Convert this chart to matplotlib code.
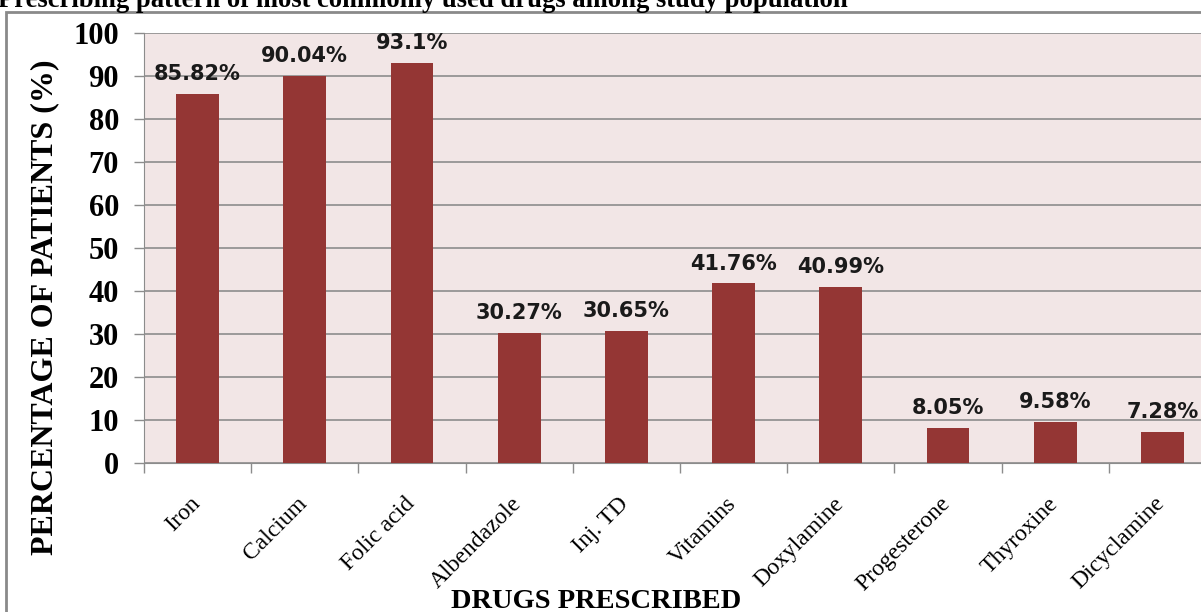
import numpy as np
import matplotlib.pyplot as plt
import matplotlib.transforms as mtransforms
from matplotlib.patches import Rectangle

drugs = ["Iron", "Calcium", "Folic acid", "Albendazole", "Inj. TD", "Vitamins",
         "Doxylamine", "Progesterone", "Thyroxine", "Dicyclamine"]
percent = [85.82, 90.04, 93.1, 30.27, 30.65, 41.76, 40.99, 8.05, 9.58, 7.28]
value_labels = ["85.82%", "90.04%", "93.1%", "30.27%", "30.65%", "41.76%",
                "40.99%", "8.05%", "9.58%", "7.28%"]

W, H = 1201, 612
fig = plt.figure(figsize=(W / 100, H / 100), dpi=100)

# outer chart border (cropped on the right and bottom)
fig.patches.append(Rectangle((6 / W, -0.1), 1.2, 1 - 12 / H + 0.1, transform=fig.transFigure,
                             fill=False, edgecolor='#8a8a8a', linewidth=2))

fig.text(-2 / W, 1 - 7 / H, "Prescribing pattern of most commonly used drugs among study population",
         fontsize=19.2, fontweight='bold', family='Liberation Serif', va='baseline', ha='left')

ax = fig.add_axes([144 / W, 1 - 463 / H, (1216 - 144) / W, (463 - 33) / H])
ax.set_facecolor('#f2e6e6')

x = np.arange(len(drugs))
ax.bar(x, percent, width=0.4, color='#943634', zorder=3)
for xi, v, lab in zip(x, percent, value_labels):
    ax.annotate(lab, (xi, v), xytext=(0, 10), textcoords='offset points', ha='center', va='baseline',
                fontsize=15, fontweight='bold', family='DejaVu Sans', color='#1a1a1a', zorder=4)

ax.set_xlim(-0.5, len(drugs) - 0.5)
ax.set_ylim(0, 100)
ax.set_yticks(np.arange(0, 101, 10))
ax.grid(axis='y', color='#8c8c8c', linewidth=1.2, zorder=1)
ax.set_xticks(x, drugs, rotation=45, ha='right', rotation_mode='anchor',
              fontsize=17, family='Liberation Serif')
ax.set_xticks(np.arange(-0.5, len(drugs), 1), minor=True)
ax.tick_params(axis='x', which='major', length=0, pad=8)
ax.tick_params(axis='x', which='minor', length=7, color='#8c8c8c', width=1)
ax.tick_params(axis='y', length=7, color='#8c8c8c', width=1, pad=11)
shift = mtransforms.ScaledTranslation(-8 / 100, -19 / 100, fig.dpi_scale_trans)
for t in ax.get_xticklabels():
    t.set_transform(t.get_transform() + shift)
for t in ax.get_yticklabels():
    t.set_fontsize(22)
    t.set_fontweight('bold')
    t.set_family('Liberation Serif')

for s in ['top', 'right']:
    ax.spines[s].set_visible(False)
ax.spines['left'].set_color('#8c8c8c')
ax.spines['bottom'].set_color('#8c8c8c')

fig.text(45 / W, 1 - 307 / H, "PERCENTAGE OF PATIENTS (%)", rotation=90, ha='center', va='center',
         fontsize=23, fontweight='bold', family='Liberation Serif')
fig.text(596 / W, 1 - 601 / H, "DRUGS PRESCRIBED", ha='center', va='center',
         fontsize=20.5, fontweight='bold', family='Liberation Serif')

fig.savefig('out.png', dpi=100)
